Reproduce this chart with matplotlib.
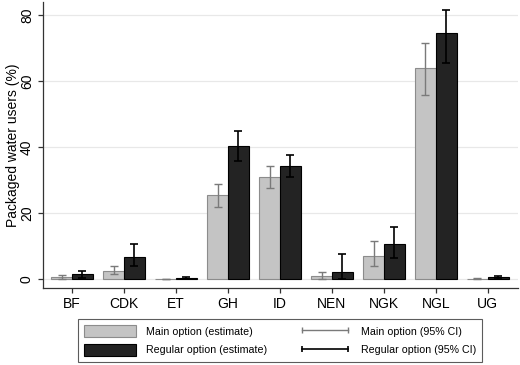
import matplotlib
matplotlib.use("Agg")
import matplotlib.pyplot as plt
from matplotlib.lines import Line2D
from matplotlib.patches import Patch
import numpy as np

plt.rcParams['font.family'] = ['Liberation Sans', 'DejaVu Sans']

# countries
countries = ["BF", "CDK", "ET", "GH", "ID", "NEN", "NGK", "NGL", "UG"]

# main option: estimate and 95% CI
main_est = [0.6, 2.6, 0.1, 25.5, 31.1, 1.0, 7.2, 64.1, 0.2]
main_lo = [0.2, 1.5, 0.0, 22.0, 27.7, 0.1, 4.2, 55.8, 0.1]
main_hi = [1.3, 4.1, 0.2, 28.8, 34.4, 2.2, 11.7, 71.5, 0.4]

# regular option: estimate and 95% CI
reg_est = [1.5, 6.9, 0.5, 40.5, 34.4, 2.2, 10.6, 74.5, 0.6]
reg_lo = [0.5, 4.2, 0.2, 35.8, 30.9, 0.2, 6.6, 65.6, 0.2]
reg_hi = [2.5, 10.8, 0.8, 45.0, 37.8, 7.6, 16.0, 81.5, 1.1]

gray_fill = "#c4c4c4"
gray_edge = "#8c8c8c"
dark_fill = "#232323"
gray_ci = "#7a7a7a"

x = np.arange(len(countries))
w = 0.4

fig = plt.figure(figsize=(5.2, 3.65), dpi=100)
ax = fig.add_axes([43 / 520, 77 / 365, 475 / 520, 286 / 365])

ax.bar(x - w / 2, main_est, w, color=gray_fill, edgecolor=gray_edge, linewidth=0.8, zorder=2)
ax.bar(x + w / 2, reg_est, w, color=dark_fill, edgecolor="black", linewidth=0.8, zorder=2)

m_err = [np.array(main_est) - np.array(main_lo), np.array(main_hi) - np.array(main_est)]
r_err = [np.array(reg_est) - np.array(reg_lo), np.array(reg_hi) - np.array(reg_est)]
ax.errorbar(x - w / 2, main_est, yerr=m_err, fmt="none", ecolor=gray_ci,
            elinewidth=1.0, capsize=3, capthick=1.0, zorder=3)
ax.errorbar(x + w / 2, reg_est, yerr=r_err, fmt="none", ecolor="black",
            elinewidth=1.2, capsize=3, capthick=1.2, zorder=3)

ax.set_xlim(-0.56, 8.58)
ax.set_ylim(-2.6, 84)
ax.set_yticks([0, 20, 40, 60, 80])
ax.set_xticks(x)
ax.set_xticklabels(countries)
ax.grid(axis="y", color="#e8e8e8", linewidth=0.9, zorder=0)
ax.set_axisbelow(True)

for s in ["top", "right"]:
    ax.spines[s].set_visible(False)
for s in ["left", "bottom"]:
    ax.spines[s].set_color("#333333")
    ax.spines[s].set_linewidth(0.9)

ax.tick_params(axis="both", length=3.6, width=0.9, color="#333333", labelsize=10)
ax.tick_params(axis="x", pad=3)
ax.tick_params(axis="y", pad=8)
for lab in ax.get_yticklabels():
    lab.set_rotation(90)
    lab.set_verticalalignment("center")
    lab.set_horizontalalignment("center")
ax.set_ylabel("Packaged water users (%)", fontsize=10, va="center")
ax.yaxis.set_label_coords(-0.064, 0.5)

handles = [
    Patch(facecolor=gray_fill, edgecolor=gray_edge, linewidth=0.8),
    Patch(facecolor=dark_fill, edgecolor="black", linewidth=0.8),
    Line2D([], [], color=gray_ci, linewidth=1.0, marker="|", markersize=5, markeredgewidth=1.0),
    Line2D([], [], color="black", linewidth=1.2, marker="|", markersize=5, markeredgewidth=1.2),
]
labels = ["Main option (estimate)", "Regular option (estimate)",
          "Main option (95% CI)", "Regular option (95% CI)"]
leg = fig.legend(handles, labels, ncol=2, loc="center", bbox_to_anchor=(0.539, 0.067),
                 fontsize=7.7, frameon=True, fancybox=False, edgecolor="#333333",
                 numpoints=2, handlelength=4.9, handleheight=1.35, handletextpad=0.9,
                 columnspacing=3.0, labelspacing=0.6, borderpad=0.55)
leg.get_frame().set_linewidth(0.8)

fig.savefig("out.png", dpi=100)
